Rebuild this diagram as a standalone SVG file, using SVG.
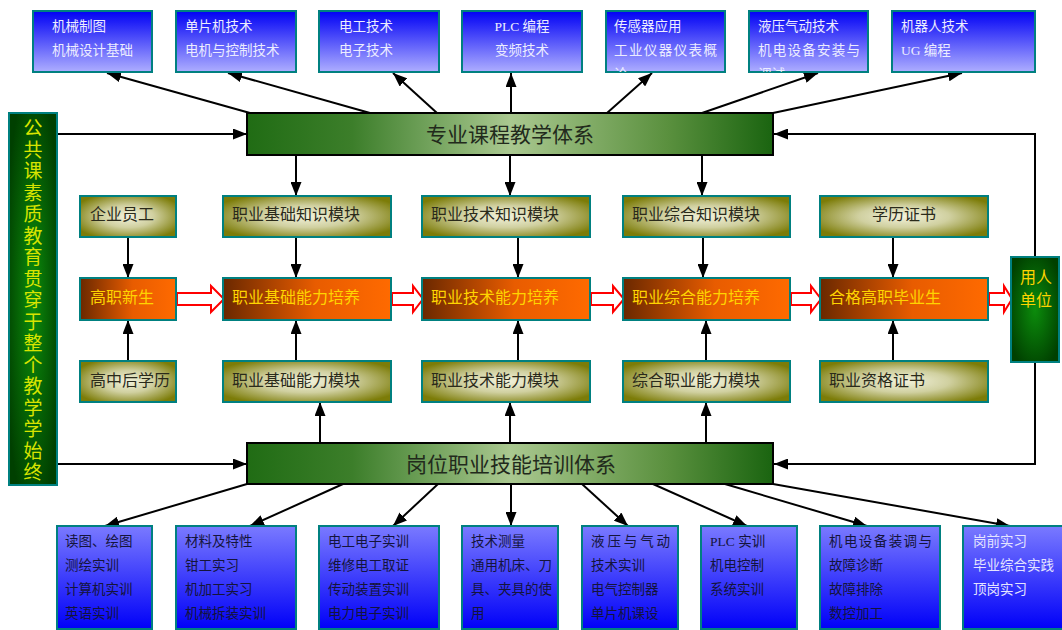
<svg xmlns="http://www.w3.org/2000/svg" width="1062" height="630" viewBox="0 0 1062 630">
<style>
text{font-family:"Liberation Serif","Noto Sans CJK SC",serif;}
.tb{fill:url(#gTop);stroke:#008080;stroke-width:2;}
.bb{fill:url(#gBot);stroke:#008080;stroke-width:2;}
.ol{fill:url(#gOlive);stroke:#008080;stroke-width:2;}
.or{fill:url(#gOrange);stroke:#008080;stroke-width:2;}
.gb{fill:url(#gDark);stroke:#008080;stroke-width:2;}
.bar{fill:url(#gBar);stroke:#000;stroke-width:2;}
.tt{font-size:13.5px;fill:#ececff;}
.bt{font-size:13.5px;fill:#14143c;}
.bw{font-size:13.5px;fill:#e4e4ff;}
.ot{font-size:16px;fill:#2a2a1a;}
.yt{font-size:16px;fill:#ffd400;}
.big{font-size:21px;fill:#222a1c;text-anchor:middle;}
.vt{font-size:19px;fill:#d8e400;text-anchor:middle;}
.ln{fill:none;stroke:#000;stroke-width:2;marker-end:url(#ah);}
.ra{fill:#fff;stroke:#ff0000;stroke-width:2;}
</style>
<defs>
<linearGradient id="gTop" x1="0" y1="0" x2="0" y2="1"><stop offset="0" stop-color="#0000f5"/><stop offset="1" stop-color="#aeaeff"/></linearGradient>
<linearGradient id="gBot" x1="0" y1="0" x2="0" y2="1"><stop offset="0" stop-color="#7a7aff"/><stop offset="1" stop-color="#0000f8"/></linearGradient>
<radialGradient id="gOlive" cx="0.5" cy="0.5" r="0.6"><stop offset="0" stop-color="#f2f2dc"/><stop offset="0.45" stop-color="#d0d0a0"/><stop offset="1" stop-color="#7c7c08"/></radialGradient>
<linearGradient id="gOrange" x1="0" y1="0" x2="1" y2="0"><stop offset="0" stop-color="#6a2800"/><stop offset="0.55" stop-color="#e85c00"/><stop offset="1" stop-color="#ff6a00"/></linearGradient>
<radialGradient id="gDark" cx="0.5" cy="0.5" r="0.6"><stop offset="0" stop-color="#0c8c0c"/><stop offset="1" stop-color="#004000"/></radialGradient>
<linearGradient id="gBar" x1="0" y1="0" x2="1" y2="0"><stop offset="0" stop-color="#206c14"/><stop offset="0.2" stop-color="#3c7e2a"/><stop offset="0.5" stop-color="#aac890"/><stop offset="0.8" stop-color="#5a903e"/><stop offset="1" stop-color="#1a6410"/></linearGradient>
<marker id="ah" viewBox="0 0 14 11" refX="14" refY="5.5" markerWidth="14" markerHeight="11" markerUnits="userSpaceOnUse" orient="auto"><path d="M0,0 L14,5.5 L0,11 z" fill="#000"/></marker>
<clipPath id="c5"><rect x="606" y="11" width="119" height="61"/></clipPath>
<clipPath id="c6"><rect x="750" y="11" width="118" height="61"/></clipPath>
</defs>
<rect width="1062" height="630" fill="#fff"/>

<g id="connectors">
<path class="ln" d="M250 113 L107 73"/>
<path class="ln" d="M370 113 L228 73"/>
<path class="ln" d="M437 113 L393 73"/>
<path class="ln" d="M511 113 L511 73"/>
<path class="ln" d="M607 113 L652 73"/>
<path class="ln" d="M702 113 L818 73"/>
<path class="ln" d="M773 113 L962 73"/>
<path class="ln" d="M57 134 L247 134"/>
<path class="ln" d="M57 464 L247 464"/>
<path class="ln" d="M1035 257 L1035 134 L774 134"/>
<path class="ln" d="M1035 362 L1035 464 L774 464"/>
<path class="ln" d="M296 155 L296 196"/>
<path class="ln" d="M510 155 L510 196"/>
<path class="ln" d="M702 155 L702 196"/>
<path class="ln" d="M128 237 L128 278"/>
<path class="ln" d="M296 237 L296 278"/>
<path class="ln" d="M518 237 L518 278"/>
<path class="ln" d="M703 237 L703 278"/>
<path class="ln" d="M893 237 L893 278"/>
<path class="ln" d="M128 361 L128 320"/>
<path class="ln" d="M296 361 L296 320"/>
<path class="ln" d="M518 361 L518 320"/>
<path class="ln" d="M706 361 L706 320"/>
<path class="ln" d="M893 361 L893 320"/>
<path class="ln" d="M320 443 L320 402"/>
<path class="ln" d="M510 443 L510 402"/>
<path class="ln" d="M706 443 L706 402"/>
<path class="ln" d="M247 484 L105 526"/>
<path class="ln" d="M343 484 L250 526"/>
<path class="ln" d="M438 484 L393 526"/>
<path class="ln" d="M511 484 L511 526"/>
<path class="ln" d="M582 484 L628 526"/>
<path class="ln" d="M653 484 L747 526"/>
<path class="ln" d="M725 484 L867 526"/>
<path class="ln" d="M773 484 L1010 526"/>
<polygon class="ra" points="177,293 211,293 211,286 224,299 211,312 211,305 177,305"/>
<polygon class="ra" points="392,293 413,293 413,286 423,299 413,312 413,305 392,305"/>
<polygon class="ra" points="591,293 613,293 613,286 624,299 613,312 613,305 591,305"/>
<polygon class="ra" points="791,293 811,293 811,286 821,299 811,312 811,305 791,305"/>
<polygon class="ra" points="989,293 1004,293 1004,286 1012,299 1004,312 1004,305 989,305"/>
</g>

<g id="t1"><rect class="tb" x="33" y="11" width="119" height="61"/><text class="tt" x="52" y="31">机械制图</text><text class="tt" x="52" y="55">机械设计基础</text></g>
<g id="t2"><rect class="tb" x="176" y="11" width="120" height="61"/><text class="tt" x="185" y="31">单片机技术</text><text class="tt" x="185" y="55">电机与控制技术</text></g>
<g id="t3"><rect class="tb" x="319" y="11" width="120" height="61"/><text class="tt" x="339" y="31">电工技术</text><text class="tt" x="339" y="55">电子技术</text></g>
<g id="t4"><rect class="tb" x="462" y="11" width="120" height="61"/><text class="tt" x="522" y="31" text-anchor="middle">PLC 编程</text><text class="tt" x="522" y="55" text-anchor="middle">变频技术</text></g>
<g id="t5"><rect class="tb" x="606" y="11" width="119" height="61"/><g clip-path="url(#c5)"><text class="tt" x="614" y="31">传感器应用</text><text class="tt" x="614" y="55" textLength="103" lengthAdjust="spacing">工业仪器仪表概</text><text class="tt" x="614" y="79">论</text></g></g>
<g id="t6"><rect class="tb" x="749" y="11" width="119" height="61"/><g clip-path="url(#c6)"><text class="tt" x="758" y="31">液压气动技术</text><text class="tt" x="758" y="55" textLength="102" lengthAdjust="spacing">机电设备安装与</text><text class="tt" x="758" y="79">调试</text></g></g>
<g id="t7"><rect class="tb" x="892" y="11" width="143" height="61"/><text class="tt" x="901" y="31">机器人技术</text><text class="tt" x="901" y="55">UG 编程</text></g>

<g id="left-bar"><rect class="gb" x="9" y="113" width="48" height="372"/>
<text class="vt"><tspan x="33" y="135">公</tspan><tspan x="33" y="157">共</tspan><tspan x="33" y="178">课</tspan><tspan x="33" y="200">素</tspan><tspan x="33" y="221">质</tspan><tspan x="33" y="243">教</tspan><tspan x="33" y="264">育</tspan><tspan x="33" y="286">贯</tspan><tspan x="33" y="307">穿</tspan><tspan x="33" y="329">于</tspan><tspan x="33" y="350">整</tspan><tspan x="33" y="372">个</tspan><tspan x="33" y="393">教</tspan><tspan x="33" y="415">学</tspan><tspan x="33" y="436">学</tspan><tspan x="33" y="458">始</tspan><tspan x="33" y="479">终</tspan></text></g>

<g id="top-bar"><rect class="bar" x="247" y="113" width="526" height="42"/><text class="big" x="510" y="142">专业课程教学体系</text></g>
<g id="bottom-bar"><rect class="bar" x="247" y="443" width="526" height="41"/><text class="big" x="511" y="472">岗位职业技能培训体系</text></g>

<g id="a1"><rect class="ol" x="80" y="196" width="96" height="41"/><text class="ot" x="90" y="220">企业员工</text></g>
<g id="a2"><rect class="ol" x="223" y="196" width="168" height="41"/><text class="ot" x="232" y="220">职业基础知识模块</text></g>
<g id="a3"><rect class="ol" x="422" y="196" width="168" height="41"/><text class="ot" x="431" y="220">职业技术知识模块</text></g>
<g id="a4"><rect class="ol" x="623" y="196" width="167" height="41"/><text class="ot" x="632" y="220">职业综合知识模块</text></g>
<g id="a5"><rect class="ol" x="820" y="196" width="168" height="41"/><text class="ot" x="904" y="220" text-anchor="middle">学历证书</text></g>

<g id="b1"><rect class="or" x="80" y="278" width="96" height="42"/><text class="yt" x="90" y="303">高职新生</text></g>
<g id="b2"><rect class="or" x="223" y="278" width="168" height="42"/><text class="yt" x="232" y="303">职业基础能力培养</text></g>
<g id="b3"><rect class="or" x="422" y="278" width="168" height="42"/><text class="yt" x="431" y="303">职业技术能力培养</text></g>
<g id="b4"><rect class="or" x="623" y="278" width="167" height="42"/><text class="yt" x="632" y="303">职业综合能力培养</text></g>
<g id="b5"><rect class="or" x="820" y="278" width="168" height="42"/><text class="yt" x="829" y="303">合格高职毕业生</text></g>

<g id="c1"><rect class="ol" x="80" y="361" width="96" height="41"/><text class="ot" x="90" y="386">高中后学历</text></g>
<g id="c2"><rect class="ol" x="223" y="361" width="168" height="41"/><text class="ot" x="232" y="386">职业基础能力模块</text></g>
<g id="c3"><rect class="ol" x="422" y="361" width="168" height="41"/><text class="ot" x="431" y="386">职业技术能力模块</text></g>
<g id="c4"><rect class="ol" x="623" y="361" width="167" height="41"/><text class="ot" x="632" y="386">综合职业能力模块</text></g>
<g id="c5n"><rect class="ol" x="820" y="361" width="168" height="41"/><text class="ot" x="829" y="386">职业资格证书</text></g>

<g id="employer"><rect class="gb" x="1011" y="257" width="48" height="105"/><text class="yt" x="1020" y="283">用人</text><text class="yt" x="1020" y="306">单位</text></g>

<g id="d1"><rect class="bb" x="57" y="526" width="95" height="103"/><text class="bt" x="65" y="546">读图、绘图</text><text class="bt" x="65" y="570">测绘实训</text><text class="bt" x="65" y="594">计算机实训</text><text class="bt" x="65" y="618">英语实训</text></g>
<g id="d2"><rect class="bb" x="176" y="526" width="120" height="103"/><text class="bt" x="185" y="546">材料及特性</text><text class="bt" x="185" y="570">钳工实习</text><text class="bt" x="185" y="594">机加工实习</text><text class="bt" x="185" y="618">机械拆装实训</text></g>
<g id="d3"><rect class="bb" x="319" y="526" width="120" height="103"/><text class="bt" x="328" y="546">电工电子实训</text><text class="bt" x="328" y="570">维修电工取证</text><text class="bt" x="328" y="594">传动装置实训</text><text class="bt" x="328" y="618">电力电子实训</text></g>
<g id="d4"><rect class="bb" x="462" y="526" width="96" height="103"/><text class="bt" x="471" y="546">技术测量</text><text class="bt" x="471" y="570">通用机床、刀</text><text class="bt" x="471" y="594">具、夹具的使</text><text class="bt" x="471" y="618">用</text></g>
<g id="d5"><rect class="bb" x="582" y="526" width="96" height="103"/><text class="bt" x="591" y="546" textLength="79" lengthAdjust="spacing">液压与气动</text><text class="bt" x="591" y="570">技术实训</text><text class="bt" x="591" y="594">电气控制器</text><text class="bt" x="591" y="618">单片机课设</text></g>
<g id="d6"><rect class="bb" x="701" y="526" width="96" height="103"/><text class="bt" x="710" y="546">PLC 实训</text><text class="bt" x="710" y="570">机电控制</text><text class="bt" x="710" y="594">系统实训</text></g>
<g id="d7"><rect class="bb" x="820" y="526" width="120" height="103"/><text class="bt" x="829" y="546" textLength="103" lengthAdjust="spacing">机电设备装调与</text><text class="bt" x="829" y="570">故障诊断</text><text class="bt" x="829" y="594">故障排除</text><text class="bt" x="829" y="618">数控加工</text></g>
<g id="d8"><rect class="bb" x="963" y="526" width="104" height="103"/><text class="bw" x="973" y="546">岗前实习</text><text class="bw" x="973" y="570">毕业综合实践</text><text class="bw" x="973" y="594">顶岗实习</text></g>
</svg>
